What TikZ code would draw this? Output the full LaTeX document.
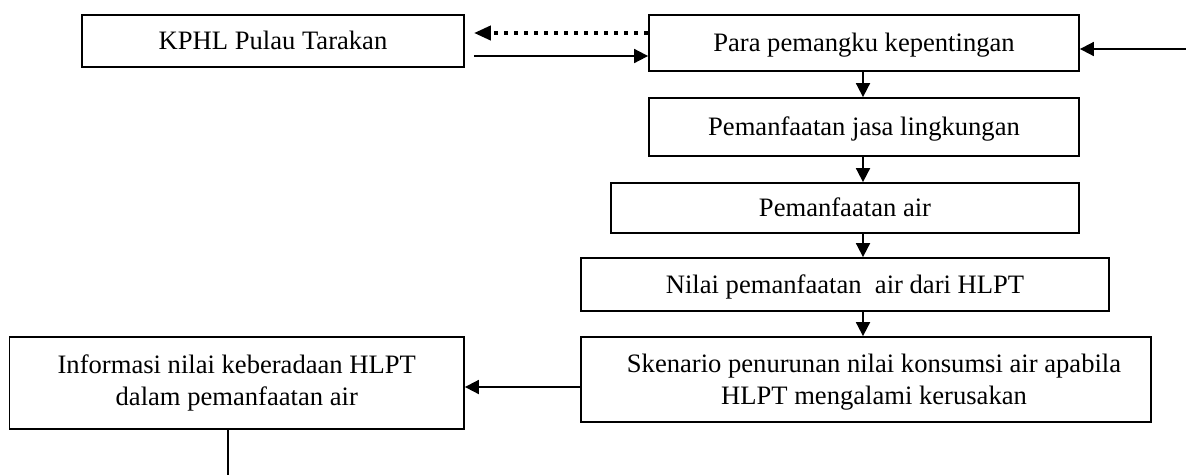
\documentclass[tikz,border=0pt]{standalone}
\usepackage{fontspec}
\setmainfont{Liberation Serif}
\usetikzlibrary{arrows.meta}
\begin{document}
\begin{tikzpicture}[x=1pt,y=-1pt,
  box/.style={draw, line width=1.8pt, inner sep=0pt, text height=17.6pt, text depth=0pt,
    font=\fontsize{26.6pt}{32pt}\selectfont},
  txt/.style={inner sep=0pt, text height=17.6pt, text depth=0pt,
    font=\fontsize{26.6pt}{32pt}\selectfont},
  arr/.style={line width=1.8pt, -{Triangle[length=14pt,width=14pt]}},
  dotarr/.style={line width=4pt, dash pattern=on 4pt off 6pt, -{Triangle[length=17pt,width=14pt]}},
  plainline/.style={line width=1.8pt}]
\useasboundingbox (0,0) rectangle (1186,475);

\node[box, minimum width=382pt, minimum height=52pt] (b1) at (273,41) {KPHL Pulau Tarakan};
\node[box, minimum width=430pt, minimum height=56pt] (b2) at (864,43) {Para pemangku kepentingan};
\node[box, minimum width=430pt, minimum height=58pt] (b3) at (864,127) {Pemanfaatan jasa lingkungan};
\node[box, minimum width=468pt, minimum height=50pt] (b4) at (845,208) {Pemanfaatan air};
\node[box, minimum width=528pt, minimum height=53pt] (b5) at (845,284.5) {Nilai pemanfaatan\ \ air dari HLPT};
\node[box, minimum width=570pt, minimum height=85pt] (b6) at (866,379.5) {};
\node[txt] (b6a) at ([xshift=8pt,yshift=16pt]b6.center) {Skenario penurunan nilai konsumsi air apabila};
\node[txt] (b6b) at ([xshift=8pt,yshift=-16pt]b6.center) {HLPT mengalami kerusakan};
\node[box, minimum width=454.5pt, minimum height=92pt] (b7) at (236.75,383) {};
\node[txt] (b7a) at ([yshift=18pt]b7.center) {Informasi nilai keberadaan HLPT};
\node[txt] (b7b) at ([yshift=-14pt]b7.center) {dalam pemanfaatan air};

% connectors between KPHL and stakeholders
\draw[dotarr, shorten >=9pt] ([yshift=10pt]b2.west) -- ([yshift=10pt]b2.west -| b1.east);
\draw[arr, shorten <=9pt] ([yshift=-13pt]b2.west -| b1.east) -- ([yshift=-13pt]b2.west);

% incoming arrow from the right
\coordinate (rin) at (1186,49);
\draw[arr] (rin) -- (rin -| b2.east);

% vertical chain
\coordinate (ax) at (863,0);
\draw[arr] (b2.south -| ax) -- (b3.north -| ax);
\draw[arr] (b3.south -| ax) -- (b4.north -| ax);
\draw[arr] (b4.south -| ax) -- (b5.north -| ax);
\draw[arr] (b5.south -| ax) -- (b6.north -| ax);

% scenario -> information
\coordinate (ay) at (0,387);
\draw[arr] (b6.west |- ay) -- (b7.east |- ay);

% line leaving the information box
\coordinate (bend) at (228,475);
\draw[plainline] (b7.south -| bend) -- (bend);
\end{tikzpicture}
\end{document}
